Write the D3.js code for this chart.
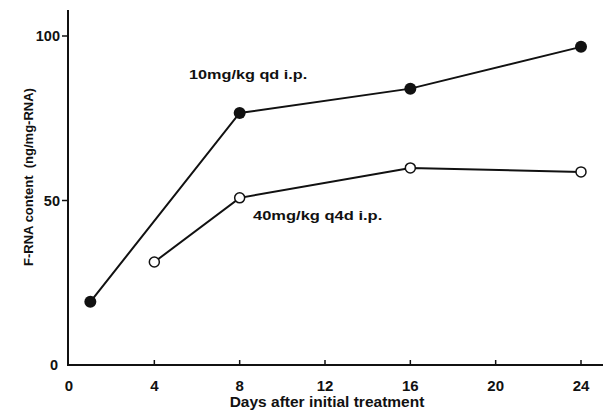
<!DOCTYPE html>
<html>
<head>
<meta charset="utf-8">
<script src="https://cdn.jsdelivr.net/npm/d3@7"></script>
<style>
  body { margin: 0; background: #fff; }
  text { font-family: "Liberation Sans", Arial, sans-serif; fill: #111; font-weight: bold; }
</style>
</head>
<body>
<svg width="614" height="415"></svg>
<script>
// values
var daysQd = [1, 8, 16, 24];
var rnaQd = [19.2, 76.6, 84, 96.7];
var daysQ4d = [4, 8, 16, 24];
var rnaQ4d = [31.3, 50.8, 59.9, 58.7];
var xTicks = [0, 4, 8, 12, 16, 20, 24];
var yTicks = [0, 50, 100];
var labelQd = "10mg/kg qd i.p.";
var labelQ4d = "40mg/kg q4d i.p.";

var svg = d3.select("svg");
var x = d3.scaleLinear().domain([0, 24]).range([69, 581]);
var y = d3.scaleLinear().domain([0, 100]).range([365, 36]);

// x axis, ticks pointing up into the plot
svg.append("line")
  .attr("x1", 68).attr("x2", 603)
  .attr("y1", y(0)).attr("y2", y(0))
  .attr("stroke", "#111").attr("stroke-width", 2);
svg.selectAll(".xt").data(xTicks.slice(1)).enter().append("line")
  .attr("x1", function(d){ return x(d); }).attr("x2", function(d){ return x(d); })
  .attr("y1", y(0)).attr("y2", y(0) - 5)
  .attr("stroke", "#111").attr("stroke-width", 1.5);
svg.selectAll(".xl").data(xTicks).enter().append("text")
  .attr("x", function(d){ return x(d); })
  .attr("y", 391)
  .attr("text-anchor", "middle")
  .attr("font-size", 15)
  .text(function(d){ return d; });

// y axis
svg.append("line")
  .attr("x1", 68).attr("x2", 68)
  .attr("y1", 10).attr("y2", y(0) + 1)
  .attr("stroke", "#111").attr("stroke-width", 2);
svg.selectAll(".yt").data(yTicks.slice(1)).enter().append("line")
  .attr("x1", 62).attr("x2", 68)
  .attr("y1", function(d){ return y(d); }).attr("y2", function(d){ return y(d); })
  .attr("stroke", "#111").attr("stroke-width", 1.5);
svg.selectAll(".yl").data(yTicks).enter().append("text")
  .attr("x", function(d){ return d == 0 ? 58 : 60; })
  .attr("y", function(d){ return y(d) + 5; })
  .attr("text-anchor", "end")
  .attr("font-size", 14.5)
  .text(function(d){ return d; });

// axis titles (the scan is a little stretched sideways)
svg.append("text")
  .attr("transform", "translate(327,407) scale(1.07,1)")
  .attr("text-anchor", "middle")
  .attr("font-size", 14.5)
  .text("Days after initial treatment");
svg.append("text")
  .attr("transform", "translate(33,177) rotate(-90)")
  .attr("text-anchor", "middle")
  .attr("font-size", 13)
  .attr("xml:space", "preserve")
  .text("F-RNA content  (ng/mg-RNA)");

var line = d3.line()
  .x(function(d){ return x(d[0]); })
  .y(function(d){ return y(d[1]); });

var qd = d3.zip(daysQd, rnaQd);
var q4d = d3.zip(daysQ4d, rnaQ4d);

svg.append("path").datum(qd).attr("d", line)
  .attr("fill", "none").attr("stroke", "#111").attr("stroke-width", 2);
svg.append("path").datum(q4d).attr("d", line)
  .attr("fill", "none").attr("stroke", "#111").attr("stroke-width", 2);

svg.selectAll(".dotQd").data(qd).enter().append("circle")
  .attr("cx", function(d){ return x(d[0]); })
  .attr("cy", function(d){ return y(d[1]); })
  .attr("r", 6)
  .attr("fill", "#111");
svg.selectAll(".dotQ4d").data(q4d).enter().append("circle")
  .attr("cx", function(d){ return x(d[0]); })
  .attr("cy", function(d){ return y(d[1]); })
  .attr("r", 5)
  .attr("fill", "#fff")
  .attr("stroke", "#111").attr("stroke-width", 1.5);

// series labels
svg.append("text")
  .attr("transform", "translate(189,79) scale(1.25,1)")
  .attr("font-size", 13)
  .text(labelQd);
svg.append("text")
  .attr("transform", "translate(253,220) scale(1.27,1)")
  .attr("font-size", 13)
  .text(labelQ4d);
</script>
</body>
</html>
